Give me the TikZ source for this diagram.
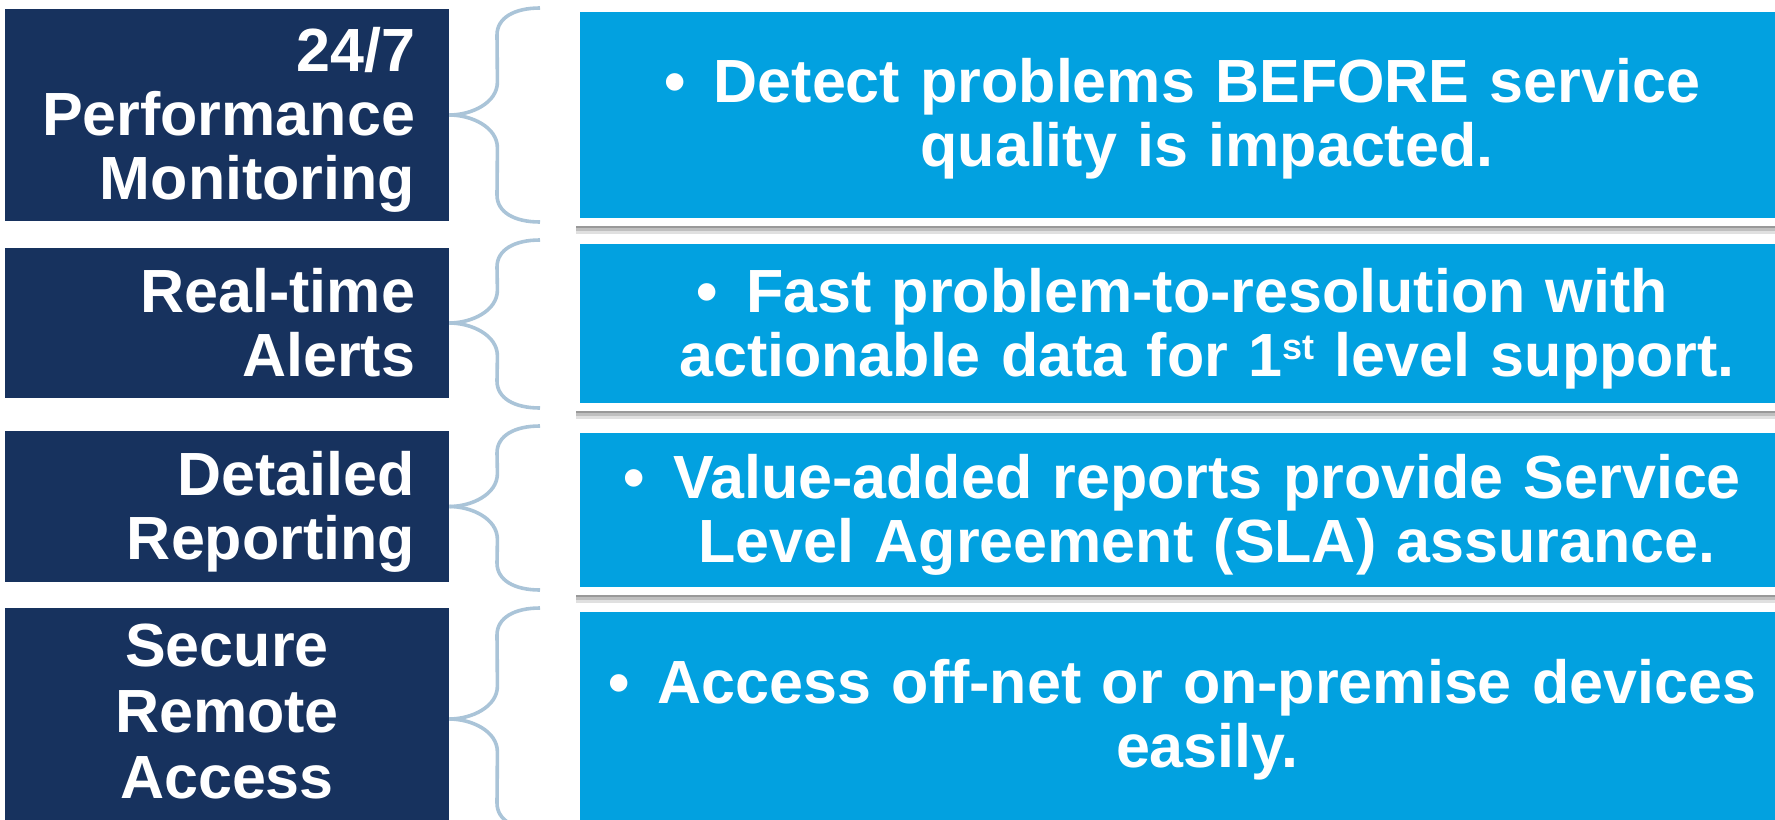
\documentclass[tikz,border=0pt]{standalone}
\usepackage{fontspec}
\setmainfont{Liberation Sans}
\usetikzlibrary{shadows}

\definecolor{navy}{RGB}{23,50,94}
\definecolor{sky}{RGB}{2,161,224}
\definecolor{bracecol}{RGB}{170,196,216}

\newcommand\boxfont{\fontsize{30.5}{32}\selectfont\bfseries}
\newcommand\bul{\llap{\textbullet\hspace{14pt}}}
\newcommand\ord[1]{\raisebox{8.5pt}{\fontsize{18}{18}\selectfont #1}}

\begin{document}
\begin{tikzpicture}[x=0.5pt, y=-0.5pt,
  navybox/.style={fill=navy, text=white, font=\boxfont, inner ysep=0pt, inner xsep=17pt,
    minimum width=222pt, text width=188pt, align=right, text height=25pt},
  skybox/.style={fill=sky, draw=white, line width=4pt, text=white, font=\boxfont,
    inner sep=0pt, minimum width=631pt, text width=600pt, align=center, text height=25pt,
    drop shadow={shadow xshift=0pt, shadow yshift=-6pt, fill=black, opacity=.12},
    drop shadow={shadow xshift=0pt, shadow yshift=-4.5pt, fill=black, opacity=.15},
    drop shadow={shadow xshift=0pt, shadow yshift=-3pt, fill=black, opacity=.2}},
  curly/.style={draw=bracecol, line width=1.8pt}]
\useasboundingbox (0,0) rectangle (1775,819);

% left column
\node[navybox, minimum height=106pt, text depth=69pt] (perf) at (227,115) {24/7\\Performance\\Monitoring};
\node[navybox, minimum height=75pt, text depth=36pt] (alerts) at (227,323) {Real-time\\Alerts};
\node[navybox, minimum height=75.5pt, text depth=36pt] (report) at (227,506.5) {Detailed\\Reporting};
\node[navybox, align=center, minimum height=111pt, text depth=78pt,
  font=\fontsize{30.5}{33}\selectfont\bfseries] (access) at (227,719) {Secure\\Remote\\Access};

% right column
\node[skybox, minimum height=107pt, text depth=38pt] (detect) at (1207,115)
  {\bul Detect problems BEFORE service\\quality is impacted.};
\node[skybox, minimum height=83.5pt, text depth=36.5pt] (fast) at (1207,323.5)
  {\bul Fast problem-to-resolution with\\actionable data for 1\ord{st} level support.};
\node[skybox, minimum height=81pt, text depth=37pt] (value) at (1207,510)
  {\bul Value-added reports provide Service\\Level Agreement (SLA) assurance.};
\node[skybox, minimum height=118pt, text depth=48pt] (remote) at (1207,726)
  {\bul Access off-net or on-premise devices\\easily.};

% braces
\foreach \nm/\ya/\yb in {perf/8/222, alerts/240/408, report/426/590, access/608/830}{
  \draw[curly] (\nm.east) .. controls +(22,0) and +(0,21) .. ++(48,-33)
    -- (497,\ya+27) .. controls +(0,-17) and +(-26,0) .. (540,\ya);
  \draw[curly] (\nm.east) .. controls +(22,0) and +(0,-21) .. ++(48,33)
    -- (497,\yb-27) .. controls +(0,17) and +(-26,0) .. (540,\yb);
}
\end{tikzpicture}
\end{document}
